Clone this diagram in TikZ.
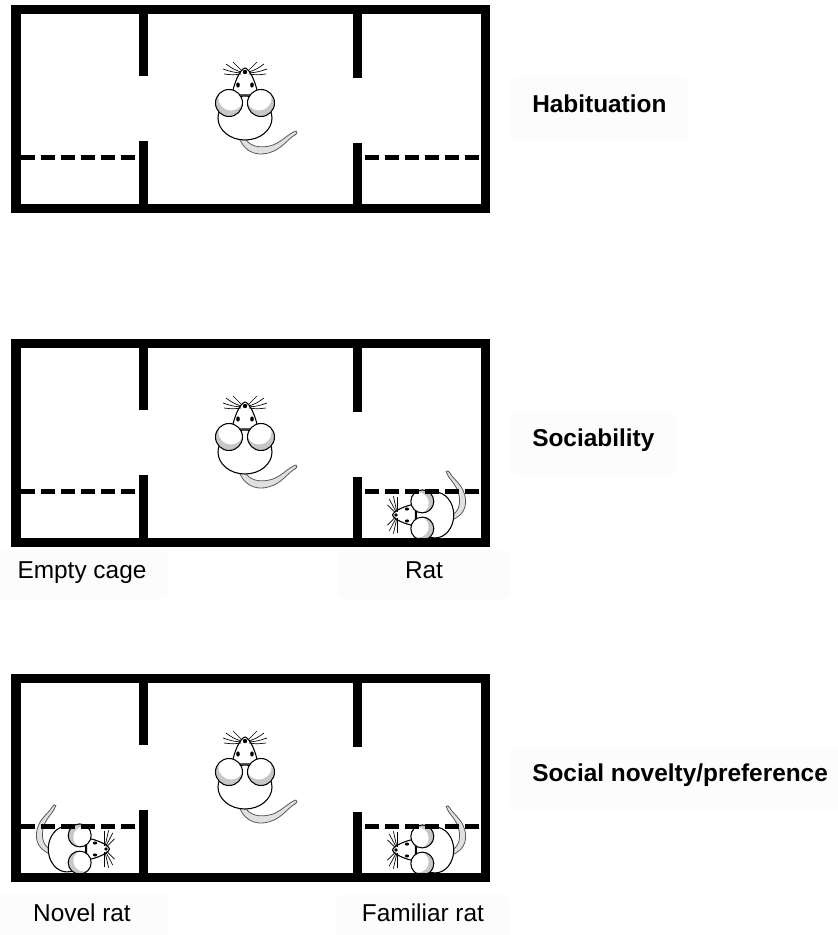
\documentclass[tikz,border=0pt]{standalone}
\usepackage{fontspec}
\setmainfont{Liberation Sans}
\tikzset{
  wall/.style={line width=7.1pt},
  cagebar/.style={line width=3.75pt, dash pattern=on 10.5pt off 4.5pt},
  phase/.style={anchor=west, fill=black!1, rounded corners=6pt,
    inner xsep=16.5pt, minimum height=48pt, text height=0.72em, text depth=0.2em,
    font=\fontsize{18.3}{21}\selectfont\bfseries},
  cagelabel/.style={fill=black!1, rounded corners=6pt, minimum width=130pt,
    minimum height=37pt, text height=0.72em, text depth=0.2em,
    font=\fontsize{18.3}{21}\selectfont},
  mouse/.pic={
    % tail
    \filldraw[draw=black!65, fill=black!12, line width=0.6pt]
      (-1,30) .. controls (2,42) and (16,44) .. (28,40)
      .. controls (38,36) and (44,28) .. (51,26)
      .. controls (53,27) and (52,29) .. (50,30)
      .. controls (44,33) and (38,42) .. (29,46)
      .. controls (16,52) and (0,50) .. (-6,32) -- cycle;
    % body and head
    \filldraw[fill=white, line width=0.8pt] (0,13) ellipse (27 and 22);
    \filldraw[fill=white, line width=0.8pt] (-13,-10)
      .. controls (-11,-22) and (-5,-36) .. (0,-37)
      .. controls (5,-36) and (11,-22) .. (13,-10) -- cycle;
    % ears
    \foreach \s in {-1,1} {
      \begin{scope}
        \clip (\s*16,-2) circle (13.5);
        \fill[black!22] (\s*16,-2) circle (13.5);
        \fill[white] (\s*14,-7) circle (12.5);
      \end{scope}
      \draw[line width=0.8pt] (\s*16,-2) circle (13.5);
    }
    % eyes and nose
    \fill (-7,-20) ellipse (1.8 and 2.6);
    \fill (7,-20) ellipse (1.8 and 2.6);
    \fill (0,-33) circle (2.2);
    % whiskers
    \foreach \s in {-1,1} {
      \draw[line width=0.5pt] (\s*3,-34) .. controls (\s*8,-38) .. (\s*12,-43);
      \draw[line width=0.5pt] (\s*4,-33) .. controls (\s*12,-36) .. (\s*19,-41);
      \draw[line width=0.5pt] (\s*4,-32) .. controls (\s*13,-33) .. (\s*22,-36);
      \draw[line width=0.5pt] (\s*4,-31) .. controls (\s*12,-30) .. (\s*21,-31);
    }
  }
}
\begin{document}
\begin{tikzpicture}[x=0.75pt, y=-0.75pt]
\useasboundingbox (0,0) rectangle (838,935);
% labels
\node[phase] (hab) at (510,109) {Habituation};
\node[phase] (soc) at (510,443.5) {Sociability};
\node[phase] (nov) at (510,778.5) {Social novelty/preference};
\node[cagelabel] (empty) at (82,575) {Empty cage};
\node[cagelabel] (rat) at (424,575) {Rat};
\node[cagelabel] (novel) at (82,918) {Novel rat};
\node[cagelabel] (familiar) at (423,918) {Familiar rat};
% animals in the side cages
\pic[rotate=90, scale=0.85] at (424,515) {mouse};
\pic[rotate=90, scale=0.85] at (424,850) {mouse};
\pic[xscale=-1, rotate=90, scale=0.85] at (78,849) {mouse};
% the three-chamber box, once per phase
\foreach \dy in {0,334,669} {
  \begin{scope}[shift={(0,\dy)}]
    \pic at (245,105) {mouse};
    \draw[wall] (16,9.5) rectangle (485.5,208.5);
    \draw[wall] (143.5,9.5) -- (143.5,76);
    \draw[wall] (143.5,141) -- (143.5,208.5);
    \draw[wall] (357.5,9.5) -- (357.5,78);
    \draw[wall] (357.5,143) -- (357.5,208.5);
    \draw[cagebar] (21,157) -- (135,157);
    \draw[cagebar] (365,157) -- (481,157);
  \end{scope}
}
\end{tikzpicture}
\end{document}
